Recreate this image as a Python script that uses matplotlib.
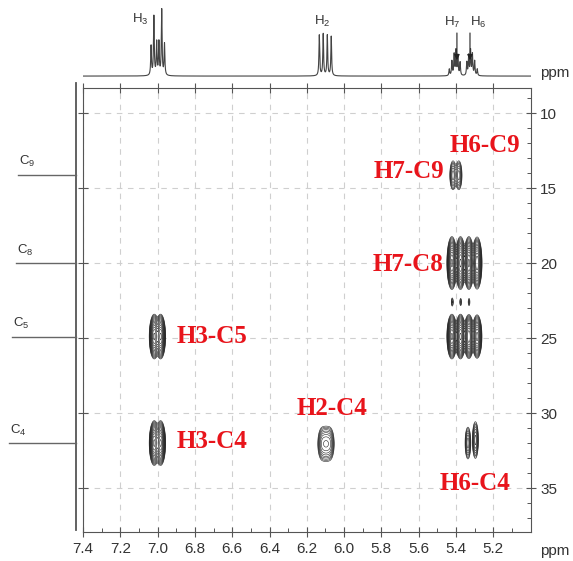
import numpy as np
import matplotlib
matplotlib.use("Agg")
import matplotlib.pyplot as plt
from matplotlib.ticker import MultipleLocator

plt.rcParams['font.family'] = ['Liberation Sans', 'DejaVu Sans']
plt.rcParams['mathtext.fontset'] = 'custom'
plt.rcParams['mathtext.rm'] = 'Liberation Sans'
plt.rcParams['mathtext.it'] = 'Liberation Sans:italic'

# 1H projection (top): line positions (ppm) and relative heights
h_lines_ppm = [7.035, 7.020, 7.005, 6.993, 6.978, 6.963,
               6.133, 6.112, 6.090, 6.069,
               5.436, 5.422, 5.410, 5.400, 5.390, 5.378,
               5.342, 5.332, 5.322, 5.312, 5.300, 5.286]
h_lines_height = [0.45, 0.90, 0.50, 0.50, 1.00, 0.48,
                  0.62, 0.64, 0.62, 0.60,
                  0.10, 0.22, 0.32, 0.38, 0.30, 0.20,
                  0.20, 0.30, 0.38, 0.32, 0.22, 0.10]
h_labels = ['H$_3$', 'H$_2$', 'H$_7$', 'H$_6$']
h_label_ppm = [7.094, 6.118, 5.420, 5.282]
h_label_height = [0.86, 0.83, 0.82, 0.82]
h_arrow_ppm = [5.395, 5.325]   # H7, H6 arrows

# 13C projection (left)
c_labels = ['C$_9$', 'C$_8$', 'C$_5$', 'C$_4$']
c_shift = [14.1, 20.0, 24.9, 32.0]

# HMBC cross peaks: x (1H ppm), y (13C ppm), amplitude, widths
peak_x = [7.018, 6.984, 7.018, 6.984,
          6.118, 6.097, 6.076,
          5.416, 5.385,
          5.422, 5.376, 5.331, 5.287,
          5.420, 5.375, 5.330,
          5.422, 5.376, 5.331, 5.287,
          5.336, 5.296]
peak_y = [24.9, 24.9, 32.0, 32.0,
          32.05, 32.05, 32.05,
          14.15, 14.15,
          20.0, 20.0, 20.0, 20.0,
          22.6, 22.6, 22.6,
          24.9, 24.9, 24.9, 24.9,
          32.0, 31.8]
peak_amp = [1.0, 1.0, 1.0, 1.0,
            0.16, 0.18, 0.16,
            0.16, 0.16,
            1.0, 1.0, 1.0, 0.9,
            0.06, 0.05, 0.05,
            1.0, 1.0, 0.9, 0.8,
            0.16, 0.20]
peak_wx = [0.010, 0.010, 0.010, 0.010,
           0.012, 0.012, 0.012,
           0.009, 0.009,
           0.010, 0.010, 0.010, 0.010,
           0.004, 0.004, 0.004,
           0.010, 0.010, 0.010, 0.010,
           0.008, 0.008]
peak_wy = [0.55, 0.55, 0.55, 0.55,
           0.55, 0.55, 0.55,
           0.50, 0.50,
           0.65, 0.65, 0.65, 0.65,
           0.20, 0.20, 0.20,
           0.55, 0.55, 0.55, 0.55,
           0.55, 0.60]

# Red assignment labels (x ppm, y ppm baseline)
assign_text = ['H6-C9', 'H7-C9', 'H7-C8', 'H3-C5', 'H3-C4', 'H2-C4', 'H6-C4']
assign_x = [5.245, 5.655, 5.655, 6.708, 6.708, 6.065, 5.298]
assign_y = [12.6, 14.3, 20.5, 25.3, 32.3, 30.1, 35.15]

W, H = 573, 561
fig = plt.figure(figsize=(W / 100, H / 100), dpi=100)


def px_axes(l, t, r, b):
    return fig.add_axes([l / W, 1 - b / H, (r - l) / W, (b - t) / H])


xlim = (7.4, 5.0)
ylim = (37.93, 8.33)

# main 2D plot
ax = px_axes(83, 88, 530.6, 532)
ax.set_xlim(*xlim)
ax.set_ylim(*ylim)

xs = np.linspace(7.4, 5.0, 1400)
ys = np.linspace(8.0, 38.0, 700)
X, Y = np.meshgrid(xs, ys)
Z = np.zeros_like(X)
for px, py, a, wx, wy in zip(peak_x, peak_y, peak_amp, peak_wx, peak_wy):
    Z += a * np.exp(-0.5 * ((X - px) / wx) ** 2 - 0.5 * ((Y - py) / wy) ** 2)
levels = np.geomspace(0.025, 0.92, 14)
ax.contour(X, Y, Z, levels=levels, colors='#222222', linewidths=0.4)

for t, x, y in zip(assign_text, assign_x, assign_y):
    ax.text(x, y, t, color='#e8141b', fontsize=18, fontweight='bold',
            family='Liberation Serif', ha='center', va='baseline')

ax.xaxis.set_minor_locator(MultipleLocator(0.1))
ax.yaxis.set_major_locator(MultipleLocator(5))
ax.yaxis.set_minor_locator(MultipleLocator(1))
ax.set_xticks(np.arange(5.2, 7.41, 0.2))
ax.set_xticklabels(['%.1f' % v for v in np.arange(5.2, 7.41, 0.2)])
ax.yaxis.tick_right()
ax.grid(True, which='major', color='#cfcfcf', linestyle=(0, (5, 5)), linewidth=0.8)
ax.tick_params(which='major', direction='inout', length=7, width=0.8,
               colors='#555555', labelcolor='#333333', labelsize=11,
               top=True, left=True, right=True, bottom=True,
               labelleft=False, labelright=True)
ax.tick_params(axis='x', which='major', pad=4)
ax.tick_params(which='minor', direction='in', length=3, width=0.7,
               colors='#555555', right=True, bottom=True, left=False, top=False)
for s in ax.spines.values():
    s.set_color('#555555')
    s.set_linewidth(0.8)
fig.text(555 / W, 1 - 551 / H, 'ppm', fontsize=11, color='#333333', ha='center', va='center')

# top 1H projection
axt = px_axes(83, 4, 530.6, 80)
axt.set_xlim(*xlim)
axt.set_ylim(-0.06, 1.1)
hx = np.linspace(7.4, 5.0, 6000)
spec = np.zeros_like(hx)
for p, h in zip(h_lines_ppm, h_lines_height):
    spec += h / (1 + ((hx - p) / 0.0024) ** 2)
axt.plot(hx, spec, color='#444444', lw=0.8)
for lab, x, y in zip(h_labels, h_label_ppm, h_label_height):
    axt.text(x, y, lab, fontsize=9.5, color='#333333', ha='center', va='center')
for x in h_arrow_ppm:
    axt.annotate('', xy=(x, 0.2), xytext=(x, 0.70),
                 arrowprops=dict(arrowstyle='-|>', color='#222222', lw=0.8,
                                 mutation_scale=8))
axt.axis('off')
fig.text(555 / W, 1 - 73 / H, 'ppm', fontsize=11, color='#333333', ha='center', va='center')

# left 13C projection
axl = px_axes(0, 88, 83, 532)
axl.set_xlim(0, 83)
axl.set_ylim(*ylim)
axl.plot([76, 76], [8.0, 37.8], color='#555555', lw=1.3, clip_on=False)
c_left = [18, 16, 12, 9]
for lab, y, xl in zip(c_labels, c_shift, c_left):
    axl.plot([xl, 76], [y, y], color='#666666', lw=1.0)
    axl.text(xl + 1, y - 0.35, lab, fontsize=9.5, color='#333333', ha='left', va='bottom')
axl.axis('off')

fig.savefig('out.png', dpi=100)
